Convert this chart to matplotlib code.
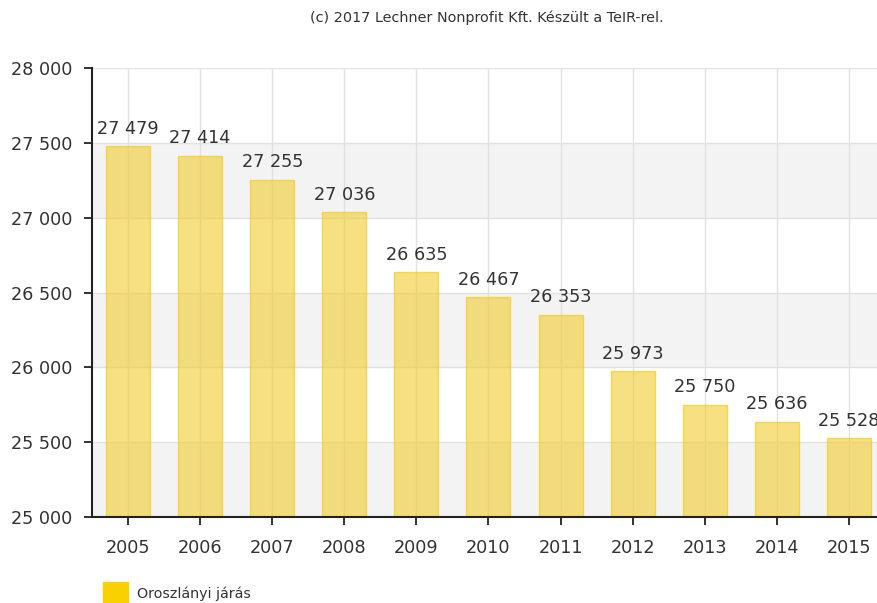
import matplotlib.pyplot as plt
import matplotlib.patches as mpatches
from matplotlib.ticker import FuncFormatter

years = ['2005', '2006', '2007', '2008', '2009', '2010', '2011', '2012', '2013', '2014', '2015']
population = [27479, 27414, 27255, 27036, 26635, 26467, 26353, 25973, 25750, 25636, 25528]
series_name = 'Oroszlányi járás'
credit = '(c) 2017 Lechner Nonprofit Kft. Készült a TeIR-rel.'

y_ticks = [25000, 25500, 26000, 26500, 27000, 27500, 28000]

plt.rcParams['font.family'] = ['DejaVu Sans']
text_col = '#333333'


def hu_num(v, pos=None):
    # szóközzel tagolt ezresek
    return f'{int(round(v)):,}'.replace(',', ' ')


fig = plt.figure(figsize=(8.77, 6.03), dpi=100)
ax = fig.add_axes([0.1049, 0.1426, 0.8951, 0.7446])

# váltakozó szürke sávok
for lo in (25000, 26000, 27000):
    ax.axhspan(lo, lo + 500, color='#f3f3f3', zorder=0, lw=0)

ax.set_ylim(25000, 28000)
ax.set_xlim(-0.5, 10.39)
ax.set_yticks(y_ticks)
ax.yaxis.set_major_formatter(FuncFormatter(hu_num))

x = list(range(len(years)))
ax.set_xticks(x)
ax.set_xticklabels(years)

ax.grid(True, color='#e2e2e2', lw=1, zorder=1)
ax.set_axisbelow(True)

bars = ax.bar(x, population, width=0.61, color='#f0cc2e', alpha=0.6,
              edgecolor='#f2c800', lw=1, zorder=2)

for xi, v in zip(x, population):
    ax.annotate(hu_num(v), (xi, v), xytext=(0, 6), textcoords='offset points',
                ha='center', va='bottom', fontsize=12.7, color=text_col, zorder=3)

for side in ('top', 'right'):
    ax.spines[side].set_visible(False)
for side in ('left', 'bottom'):
    ax.spines[side].set_color('#222222')
    ax.spines[side].set_linewidth(1.5)

ax.tick_params(axis='both', colors='#222222', length=6, width=1.3,
               labelsize=12.7, labelcolor=text_col)
ax.tick_params(axis='x', pad=10)
ax.tick_params(axis='y', pad=8)

fig.text(0.555, 0.97, credit, ha='center', va='center', fontsize=10.4, color=text_col)

# jelmagyarázat
fig.patches.append(mpatches.Rectangle((103 / 877, 0.0), 25 / 877, 21 / 603,
                                      transform=fig.transFigure, color='#f9d000',
                                      figure=fig))
fig.text(137 / 877, 9 / 603, series_name, ha='left', va='center',
         fontsize=10.3, color=text_col)

fig.savefig('out.png', dpi=100)
